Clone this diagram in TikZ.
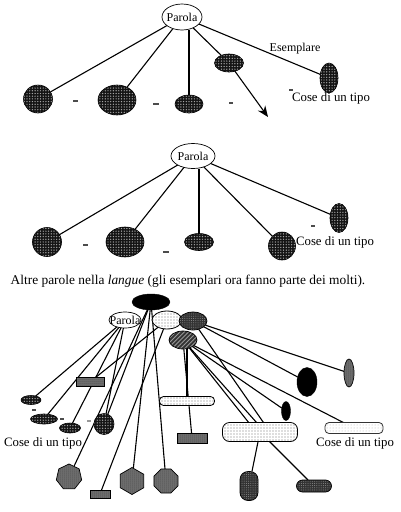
\documentclass[tikz,border=0pt]{standalone}
\usepackage{fontspec}
\setmainfont{Liberation Serif}
\usetikzlibrary{shapes.geometric,patterns.meta,arrows.meta,backgrounds}
\begin{document}
\begin{tikzpicture}[x=1pt,y=-1pt,
  every node/.style={inner sep=0pt,outer sep=0pt},
  lbl/.style={font=\fontsize{12}{14}\selectfont},
  lblw/.style={font=\fontsize{12.8}{14}\selectfont},
  caplbl/.style={font=\fontsize{13.4}{15}\selectfont},
  conn/.style={line width=1.1pt},
  tick/.style={line width=1.1pt,black!70},
  wordell/.style={ellipse,draw,line width=0.7pt,fill=white},
  darkdot/.style={draw=black,line width=0.6pt,preaction={fill=black!92},pattern={Dots[distance=2.7pt,radius=0.7pt]},pattern color=white!65!black},
  lightdot/.style={draw=black,line width=0.8pt,preaction={fill=white},pattern={Dots[distance=3pt,radius=0.65pt]},pattern color=black!55},
  paledot/.style={draw=black!80,line width=0.8pt,preaction={fill=white},pattern={Dots[distance=3pt,radius=0.5pt]},pattern color=black!30},
  solidblack/.style={draw=black,fill=black},
  texgray/.style={draw=black,line width=0.7pt,preaction={fill=black!55},pattern={Dots[distance=2pt,radius=0.5pt]},pattern color=black!85},
  texdark/.style={draw=black,line width=0.7pt,preaction={fill=black!80},pattern={Dots[distance=2.2pt,radius=0.5pt]},pattern color=black!45},
  hatched/.style={draw=black,line width=0.7pt,preaction={fill=black!80},pattern={Lines[angle=45,distance=3pt,line width=0.8pt]},pattern color=white!60!black},
  ell/.style={ellipse},
  rrect/.style={rectangle,rounded corners=4pt},
  caps/.style={rectangle,rounded corners=6pt},
  box/.style={rectangle}
]
\useasboundingbox (0,0) rectangle (400,512);

% ---------------- top diagram ----------------
\node[wordell,minimum width=40pt,minimum height=26pt] (Pt) at (182,17) {};
\node[lbl] (PtT) at (Pt) {Parola};
\node[ell,darkdot,minimum width=29pt,minimum height=28pt] (A1) at (38,99) {};
\node[ell,darkdot,minimum width=38pt,minimum height=30pt] (A2) at (117,100) {};
\node[ell,darkdot,minimum width=28pt,minimum height=18pt] (A3) at (189,104) {};
\node[ell,darkdot,minimum width=29pt,minimum height=18pt] (A4) at (229,63) {};
\node[ell,darkdot,minimum width=18pt,minimum height=30pt] (A5) at (329,78) {};
\coordinate (Aend) at (268,117);
\node[lbl] (Esem) at (295,49) {Esemplare};
\node[lblw] (CoseT) at (331,98) {Cose di un tipo};
\begin{scope}[on background layer]
\draw[conn] (Pt) -- (A1);
\draw[conn] (Pt) -- (A2);
\draw[conn] (Pt.south -| A3) -- (A3);
\draw[conn] (Pt) -- (A4);
\draw[conn] (Pt) -- (A5);
\end{scope}
\draw[conn,-{Stealth[length=11pt,width=9pt]}] (A4) -- (Aend);
\draw[tick] (73,101) -- (78,101);
\draw[tick,line width=1.6pt] (153,104) -- (159,104);
\draw[tick] (229,103) -- (233,103);
\draw[tick] (289,90) -- (293,90);

% ---------------- middle diagram ----------------
\node[wordell,minimum width=44pt,minimum height=25pt] (Pm) at (193,156) {};
\node[lbl] (PmT) at (Pm) {Parola};
\node[ell,darkdot,minimum width=29pt,minimum height=29pt] (B1) at (47,242) {};
\node[ell,darkdot,minimum width=38pt,minimum height=30pt] (B2) at (125,242) {};
\node[ell,darkdot,minimum width=29pt,minimum height=17pt] (B3) at (199,242) {};
\node[ell,darkdot,minimum width=27pt,minimum height=28pt] (B4) at (282,246) {};
\node[ell,darkdot,minimum width=18pt,minimum height=29pt] (B5) at (339,218) {};
\node[lblw] (CoseM) at (335,242) {Cose di un tipo};
\node[caplbl] (Capt) at (188,281) {Altre parole nella \textit{langue} (gli esemplari ora fanno parte dei molti).};
\begin{scope}[on background layer]
\draw[conn] (Pm) -- (B1);
\draw[conn] (Pm) -- (B2);
\draw[conn] (Pm.south -| B3) -- (B3);
\draw[conn] (Pm) -- (B4);
\draw[conn] (Pm) -- (B5);
\end{scope}
\draw[tick] (83,245) -- (88,245);
\draw[tick,line width=1.6pt] (163,252) -- (169,252);
\draw[tick] (311,226) -- (315,226);

% ---------------- bottom diagram ----------------
\node[ell,solidblack,minimum width=38pt,minimum height=16pt] (C0) at (151,302) {};
\node[wordell,minimum width=32pt,minimum height=16pt] (Pb) at (125,320) {};
\node[lbl] (PbT) at (Pb) {Parola};
\node[ell,lightdot,minimum width=30pt,minimum height=18pt] (D1) at (167,320) {};
\node[ell,texdark,minimum width=28pt,minimum height=18pt] (G1) at (193,321) {};
\node[ell,hatched,minimum width=28pt,minimum height=18pt] (H1) at (183,340) {};

\node[ell,darkdot,minimum width=20pt,minimum height=9pt] (E1) at (31,400) {};
\node[ell,darkdot,minimum width=27pt,minimum height=10pt] (E2) at (44,419) {};
\node[ell,darkdot,minimum width=21pt,minimum height=10pt] (E3) at (70,428) {};
\node[ell,darkdot,minimum width=20pt,minimum height=21pt] (E4) at (104,424) {};
\node[box,texgray,minimum width=28pt,minimum height=9pt] (R1) at (90,382) {};
\node[rrect,lightdot,minimum width=55pt,minimum height=9pt] (Q1) at (187,401) {};
\node[box,texgray,minimum width=30pt,minimum height=10pt] (R2) at (192,438) {};
\node[rrect,lightdot,minimum width=75pt,minimum height=19pt,rounded corners=7pt] (Q2) at (260,432) {};
\node[ell,solidblack,minimum width=20pt,minimum height=29pt] (BE) at (307,382) {};
\node[ell,texgray,minimum width=10pt,minimum height=28pt] (NE) at (349,373) {};
\node[ell,solidblack,minimum width=9pt,minimum height=19pt] (SE) at (286,411) {};
\node[rrect,paledot,minimum width=58pt,minimum height=11pt] (Q3) at (354,428) {};
\node[lblw] (CoseL) at (43,443) {Cose di un tipo};
\node[lblw] (CoseR) at (355,443) {Cose di un tipo};
\node[regular polygon,regular polygon sides=7,texgray,minimum size=26pt] (X1) at (69,477) {};
\node[box,texgray,minimum width=20pt,minimum height=8pt] (R3) at (100,494) {};
\node[regular polygon,regular polygon sides=6,shape border rotate=30,texgray,minimum size=27pt] (X2) at (132,481) {};
\node[regular polygon,regular polygon sides=8,texgray,minimum size=26pt] (X3) at (166,481) {};
\node[caps,texdark,minimum width=18pt,minimum height=29pt,rounded corners=8pt] (VC) at (249,486) {};
\node[caps,texdark,minimum width=35pt,minimum height=12pt,rounded corners=6pt] (HC) at (314,486) {};

\begin{scope}[on background layer]
\draw[conn] (Pb) -- (E1);
\draw[conn] (Pb) -- (E2);
\draw[conn] (Pb) -- (E3);
\draw[conn] (Pb) -- (E4);
\draw[conn] (C0) -- (E4);
\draw[conn] (C0) -- (X1);
\draw[conn] (C0) -- (X2);
\draw[conn] (C0) -- (X3);
\draw[conn] (D1) -- (R1);
\draw[conn] (D1) -- (R3);
\draw[conn] (H1) -- (R2);
\draw[conn] (H1.south -| Q1) -- (Q1);
\draw[conn] (G1) -- (NE);
\draw[conn] (G1) -- (BE);
\draw[conn] (H1) -- (SE);
\draw[conn] (H1) -- (Q3);
\draw[conn] (H1) -- (Q2.140);
\draw[conn] (H1) -- (Q2.110);
\draw[conn] (G1) -- (Q2.70);
\draw[conn] (Q2) -- (VC);
\draw[conn] (Q2) -- (HC);
\end{scope}
\draw[tick,line width=1.4pt] (32,410) -- (36,410);
\draw[tick,line width=1.4pt] (60,419) -- (64,419);
\draw[tick,black!40] (87,421) -- (91,421);
\end{tikzpicture}
\end{document}
